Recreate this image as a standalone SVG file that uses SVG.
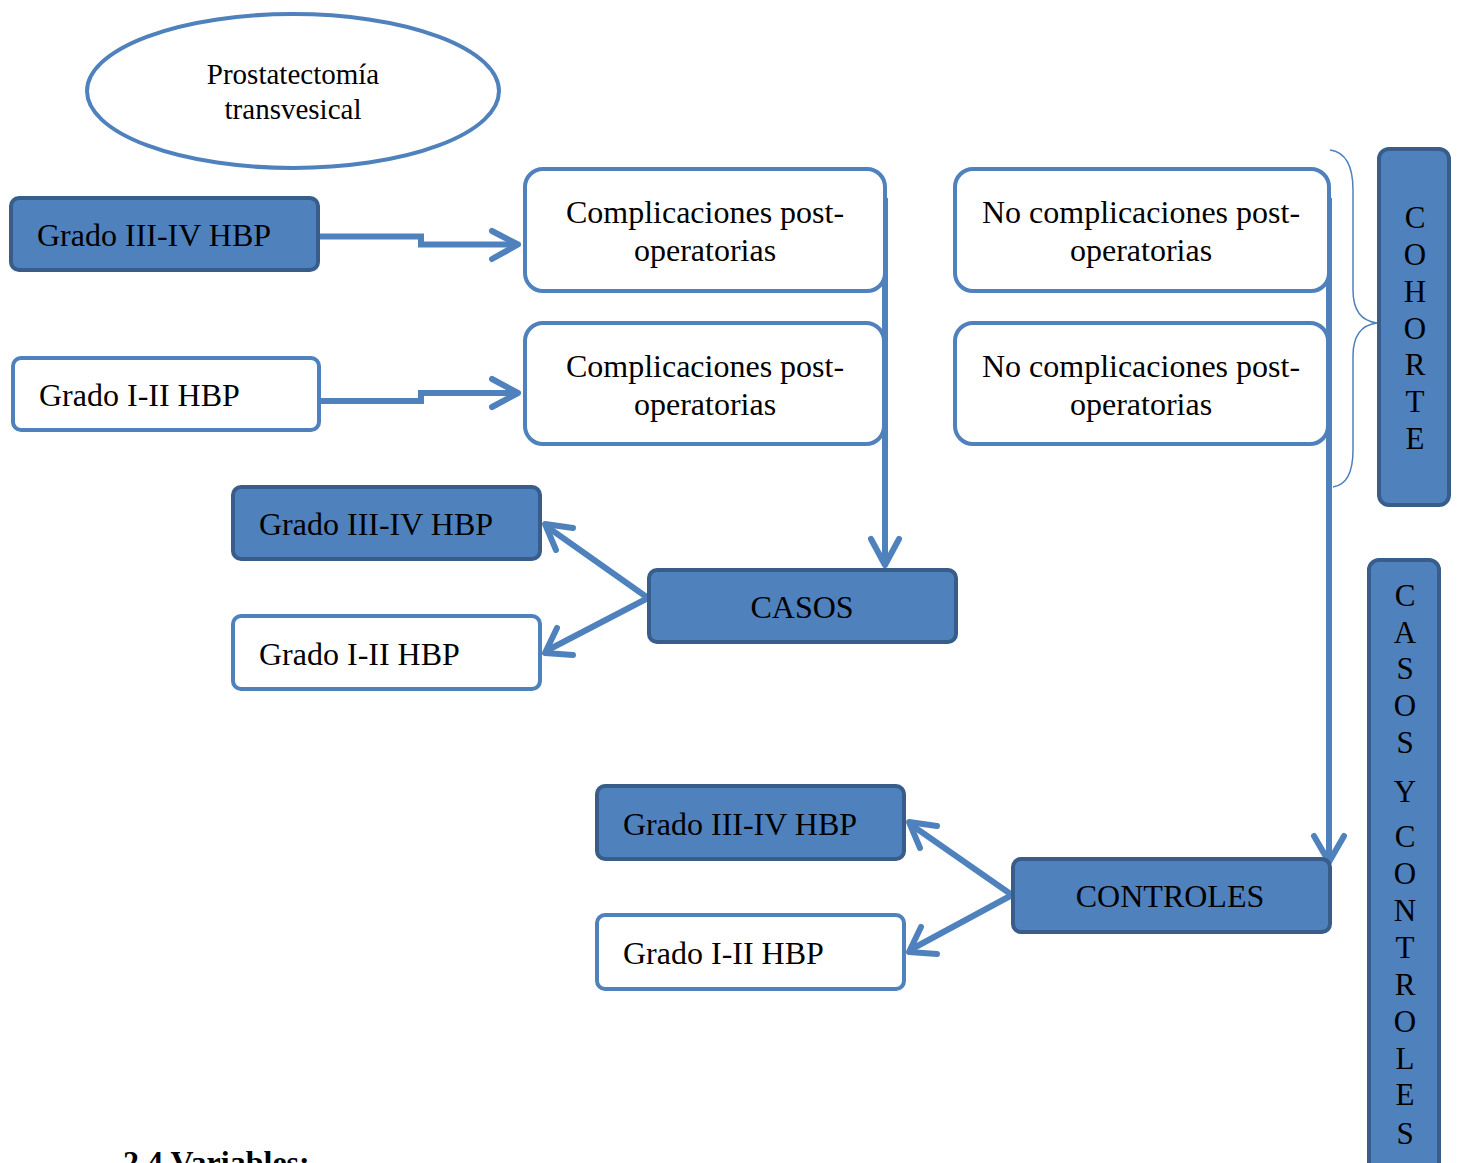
<svg xmlns="http://www.w3.org/2000/svg" width="1459" height="1163" viewBox="0 0 1459 1163">
<style>
text{font-family:"Liberation Serif","Times New Roman",serif;fill:#000}
.t{font-size:32px}
.c{text-anchor:middle}
.fill{fill:#4F81BD;stroke:#385D8A;stroke-width:4}
.white{fill:#fff;stroke:#4F81BD;stroke-width:4}
.ln{fill:none;stroke:#4F81BD;stroke-width:6;stroke-linejoin:miter}
.ah{fill:none;stroke:#4F81BD;stroke-width:6;stroke-linecap:round;stroke-linejoin:round}
.v{font-size:31px;text-anchor:middle}
</style>
<rect width="1459" height="1163" fill="#fff"/>
<g id="ellipse">
<ellipse cx="293" cy="91" rx="206" ry="77" fill="#fff" stroke="#4F81BD" stroke-width="4"/>
<text x="293" y="84" font-size="29" class="c">Prostatectomía</text>
<text x="293" y="119" font-size="29" class="c">transvesical</text>
</g>
<g id="connectors">
<polyline class="ln" points="320,236.5 421,236.5 421,244.5 516,244.5"/>
<polyline class="ah" points="492,231 518,244.5 492,259"/>
<polyline class="ln" points="320,401 421,401 421,393 516,393"/>
<polyline class="ah" points="492,379 518,393 492,407"/>
<line class="ln" x1="885" y1="198" x2="885" y2="564"/>
<polyline class="ah" points="871,539 885,565 899,539"/>
<line class="ln" x1="1329" y1="198" x2="1329" y2="860"/>
<polyline class="ah" points="1314,836 1329,862 1344,836"/>
<line class="ln" x1="648" y1="598" x2="546" y2="526"/>
<polyline class="ah" points="573,528 545,524 556,550"/>
<line class="ln" x1="648" y1="598" x2="546" y2="651"/>
<polyline class="ah" points="557,628 545,653 573,655"/>
<line class="ln" x1="1012" y1="895" x2="910" y2="824"/>
<polyline class="ah" points="937,826 909,822 920,848"/>
<line class="ln" x1="1012" y1="895" x2="910" y2="950"/>
<polyline class="ah" points="921,927 909,952 937,954"/>
<path d="M1330,150 Q1353,153 1353,190 L1353,290 Q1353,320 1377,323 Q1353,326 1353,356 L1353,450 Q1353,484 1333,487" fill="none" stroke="#4F81BD" stroke-width="1.5"/>
</g>
<g id="n-grado34-a">
<rect class="fill" x="11" y="198" width="307" height="72" rx="8"/>
<text class="t" x="37" y="246">Grado III-IV HBP</text>
</g>
<g id="n-grado12-a">
<rect class="white" x="13" y="358" width="306" height="72" rx="8"/>
<text class="t" x="39" y="406">Grado I-II HBP</text>
</g>
<g id="n-comp-1">
<rect class="white" x="525" y="169" width="360" height="122" rx="18"/>
<text class="t c" x="705" y="223">Complicaciones post-</text>
<text class="t c" x="705" y="261">operatorias</text>
</g>
<g id="n-comp-2">
<rect class="white" x="525" y="323" width="359" height="121" rx="18"/>
<text class="t c" x="705" y="377">Complicaciones post-</text>
<text class="t c" x="705" y="415">operatorias</text>
</g>
<g id="n-nocomp-1">
<rect class="white" x="955" y="169" width="374" height="122" rx="18"/>
<text class="t c" x="1141" y="223">No complicaciones post-</text>
<text class="t c" x="1141" y="261">operatorias</text>
</g>
<g id="n-nocomp-2">
<rect class="white" x="955" y="323" width="373" height="121" rx="18"/>
<text class="t c" x="1141" y="377">No complicaciones post-</text>
<text class="t c" x="1141" y="415">operatorias</text>
</g>
<g id="n-cohorte">
<rect class="fill" x="1379" y="149" width="70" height="356" rx="10"/>
<text class="v" x="1415" y="228">C</text>
<text class="v" x="1415" y="265">O</text>
<text class="v" x="1415" y="302">H</text>
<text class="v" x="1415" y="339">O</text>
<text class="v" x="1415" y="375">R</text>
<text class="v" x="1415" y="412">T</text>
<text class="v" x="1415" y="449">E</text>
</g>
<g id="n-casos-controles">
<rect class="fill" x="1369" y="560" width="70" height="640" rx="10"/>
<text class="v" x="1405" y="606">C</text>
<text class="v" x="1405" y="643">A</text>
<text class="v" x="1405" y="679">S</text>
<text class="v" x="1405" y="716">O</text>
<text class="v" x="1405" y="753">S</text>
<text class="v" x="1405" y="802">Y</text>
<text class="v" x="1405" y="847">C</text>
<text class="v" x="1405" y="884">O</text>
<text class="v" x="1405" y="921">N</text>
<text class="v" x="1405" y="958">T</text>
<text class="v" x="1405" y="995">R</text>
<text class="v" x="1405" y="1032">O</text>
<text class="v" x="1405" y="1069">L</text>
<text class="v" x="1405" y="1105">E</text>
<text class="v" x="1405" y="1144">S</text>
</g>
<g id="n-grado34-b">
<rect class="fill" x="233" y="487" width="307" height="72" rx="8"/>
<text class="t" x="259" y="535">Grado III-IV HBP</text>
</g>
<g id="n-grado12-b">
<rect class="white" x="233" y="616" width="307" height="73" rx="8"/>
<text class="t" x="259" y="665">Grado I-II HBP</text>
</g>
<g id="n-casos">
<rect class="fill" x="649" y="570" width="307" height="72" rx="8"/>
<text class="t c" x="802" y="618">CASOS</text>
</g>
<g id="n-grado34-c">
<rect class="fill" x="597" y="786" width="307" height="73" rx="8"/>
<text class="t" x="623" y="835">Grado III-IV HBP</text>
</g>
<g id="n-grado12-c">
<rect class="white" x="597" y="915" width="307" height="74" rx="8"/>
<text class="t" x="623" y="964">Grado I-II HBP</text>
</g>
<g id="n-controles">
<rect class="fill" x="1013" y="859" width="317" height="73" rx="8"/>
<text class="t c" x="1170" y="907">CONTROLES</text>
</g>
<text x="123" y="1173" font-size="32" font-weight="bold">2.4 Variables:</text>
</svg>
